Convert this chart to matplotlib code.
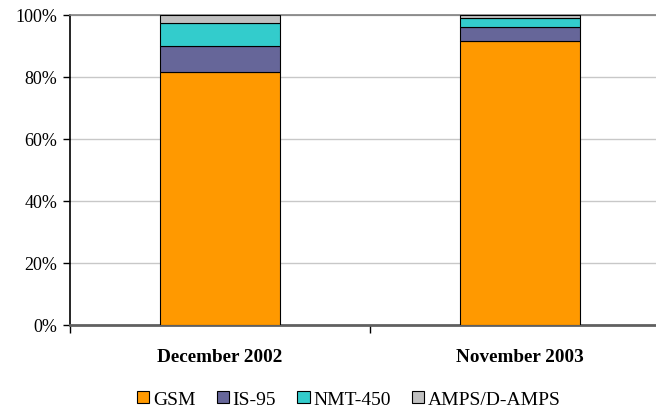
import matplotlib.pyplot as plt
import numpy as np

plt.rcParams['font.family'] = ['Liberation Serif', 'DejaVu Serif']

periods = ["December 2002", "November 2003"]
standards = ["GSM", "IS-95", "NMT-450", "AMPS/D-AMPS"]
gsm = [81.6, 91.5]
is95 = [8.3, 4.5]
nmt450 = [7.4, 3.0]
amps = [2.7, 1.0]
colors = ["#FF9900", "#666699", "#33CCCC", "#C0C0C0"]

fig = plt.figure(figsize=(6.56, 4.10), dpi=100)
ax = fig.add_axes([0.1067, 0.206, 0.9146, 0.756])

x = np.arange(len(periods))
bottom = np.zeros(len(periods))
for name, vals, c in zip(standards, [gsm, is95, nmt450, amps], colors):
    ax.bar(x, vals, 0.4, bottom=bottom, color=c, edgecolor="black",
           linewidth=0.8, label=name, zorder=3)
    bottom += np.array(vals)

ax.set_xlim(-0.5, 1.5)
ax.set_ylim(0, 100)
ax.set_yticks(np.arange(0, 101, 20))
ax.set_yticklabels(["{}%".format(v) for v in range(0, 101, 20)], fontsize=13)
ax.yaxis.grid(True, color="#c8c8c8", linewidth=1, zorder=0)

ax.set_xticks(x)
ax.set_xticklabels(periods, fontsize=13.8, fontweight="bold")
ax.tick_params(axis="x", which="major", length=0, pad=17)
ax.set_xticks([-0.5, 0.5, 1.5], minor=True)
ax.tick_params(axis="x", which="minor", length=6, width=1, color="black")
ax.tick_params(axis="y", length=5, width=1, color="black", pad=4)

ax.spines["right"].set_visible(False)
ax.spines["top"].set_color("#808080")
ax.spines["top"].set_linewidth(1.2)
ax.spines["left"].set_color("black")
ax.spines["left"].set_linewidth(1.2)
ax.spines["bottom"].set_color("#606060")
ax.spines["bottom"].set_linewidth(2)

fig.legend(loc="center", bbox_to_anchor=(0.532, 0.024), ncol=4, frameon=False,
           fontsize=14, handlelength=0.62, handleheight=0.62, handletextpad=0.2,
           columnspacing=1.1)

fig.savefig("out.png", dpi=100)
